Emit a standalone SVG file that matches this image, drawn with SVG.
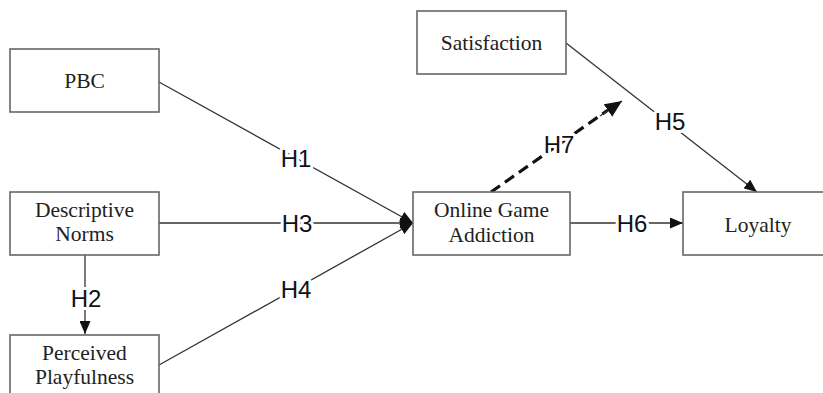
<svg xmlns="http://www.w3.org/2000/svg" width="823" height="393" viewBox="0 0 823 393">
<defs>
<marker id="arr" markerWidth="13" markerHeight="11" refX="13" refY="5.5" orient="auto" markerUnits="userSpaceOnUse"><path d="M0,0 L13,5.5 L0,11 z" fill="#111"/></marker>
<marker id="arrBig" markerWidth="17" markerHeight="15" refX="17" refY="7.5" orient="auto" markerUnits="userSpaceOnUse"><path d="M0,0 L17,7.5 L0,15 z" fill="#111"/></marker>
<style>
.box{fill:#fff;stroke:#666;stroke-width:1.6}
.nt{font-family:"Liberation Serif","Times New Roman",serif;font-size:21.5px;fill:#222;text-anchor:middle}
.ln{stroke:#333;stroke-width:1.3;fill:none}
.dash{stroke:#111;stroke-width:3.2;fill:none;stroke-dasharray:11 6}
.lb{font-family:"Liberation Sans",Arial,sans-serif;font-size:24px;fill:#111;text-anchor:middle;stroke:#fff;stroke-width:6;paint-order:stroke;stroke-linejoin:round}
</style>
</defs>
<rect width="823" height="393" fill="#fff"/>
<g id="connectors">
<line class="ln" x1="159" y1="82" x2="413" y2="223" marker-end="url(#arr)"/>
<line class="ln" x1="159" y1="223" x2="413" y2="223" marker-end="url(#arr)"/>
<line class="ln" x1="159" y1="365" x2="413" y2="223" marker-end="url(#arr)"/>
<line class="ln" x1="85" y1="255" x2="85" y2="334" marker-end="url(#arr)"/>
<line class="ln" x1="566" y1="43" x2="757" y2="192" marker-end="url(#arr)"/>
<line class="ln" x1="570" y1="223" x2="683" y2="223" marker-end="url(#arr)"/>
<line class="dash" x1="491" y1="192" x2="608" y2="110"/>
<line class="ln" x1="600" y1="116" x2="622" y2="101" stroke="#111" marker-end="url(#arrBig)"/>
<text class="lb" x="296" y="167">H1</text>
<text class="lb" x="297" y="232">H3</text>
<text class="lb" x="296" y="298">H4</text>
<text class="lb" x="86" y="307">H2</text>
<text class="lb" x="670" y="130">H5</text>
<text class="lb" x="632" y="232">H6</text>
<text class="lb" x="559" y="153">H7</text>
</g>
<g id="pbc"><rect class="box" x="10" y="49" width="149" height="63"/><text class="nt" x="84.5" y="88">PBC</text></g>
<g id="descriptive-norms"><rect class="box" x="10" y="192" width="149" height="63"/><text class="nt" x="84.5" y="217">Descriptive</text><text class="nt" x="84.5" y="241">Norms</text></g>
<g id="perceived-playfulness"><rect class="box" x="10" y="335" width="149" height="63"/><text class="nt" x="84.5" y="360">Perceived</text><text class="nt" x="84.5" y="384">Playfulness</text></g>
<g id="satisfaction"><rect class="box" x="417" y="11" width="149" height="63"/><text class="nt" x="491.5" y="50">Satisfaction</text></g>
<g id="online-game-addiction"><rect class="box" x="413" y="192" width="157" height="63"/><text class="nt" x="491.5" y="217">Online Game</text><text class="nt" x="491.5" y="242">Addiction</text></g>
<g id="loyalty"><rect class="box" x="683" y="192" width="160" height="63"/><text class="nt" x="758" y="232">Loyalty</text></g>
</svg>
